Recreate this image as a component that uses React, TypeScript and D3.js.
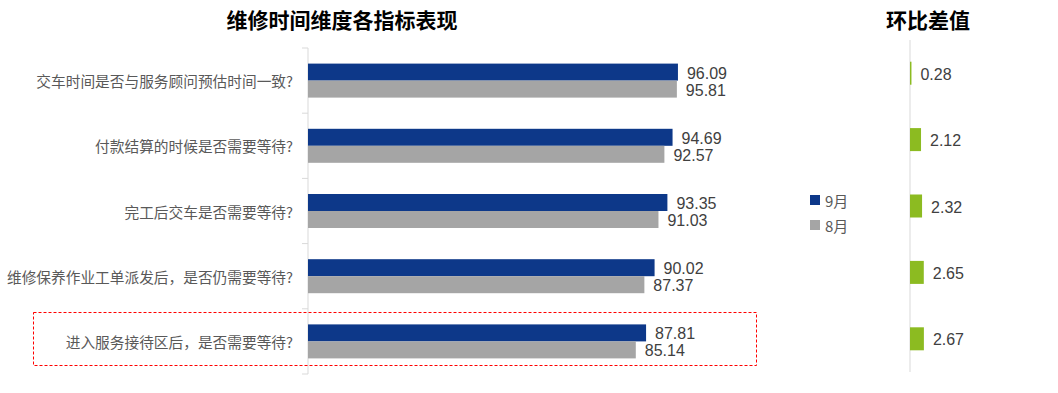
import React from "react";
import * as d3 from "d3";

// chart data
const categories = [
  "交车时间是否与服务顾问预估时间一致?",
  "付款结算的时候是否需要等待?",
  "完工后交车是否需要等待?",
  "维修保养作业工单派发后，是否仍需要等待?",
  "进入服务接待区后，是否需要等待?",
];
const septValues = [96.09, 94.69, 93.35, 90.02, 87.81];
const augValues = [95.81, 92.57, 91.03, 87.37, 85.14];
const diffValues = [0.28, 2.12, 2.32, 2.65, 2.67];
const seriesNames = ["9月", "8月"];

const W = 1058;
const H = 393;
const BLUE = "#0d3889";
const GRAY = "#a5a5a5";
const GREEN = "#8cbb21";
const AXIS = "#d9d9d9";
const TEXT = "#404040";
const LABEL = "#595959";
const CJK = "'Noto Sans CJK SC', 'Noto Sans', sans-serif";
const NUM = "'Liberation Sans', Arial, sans-serif";

export default function App() {
  const x0 = 308;
  const xScale = d3.scaleLinear().domain([0, 100]).range([x0, x0 + 385]);
  const yScale = d3.scaleBand().domain(categories).range([48, 374]);
  const barH = 17;

  const dx0 = 910;
  const dxScale = d3.scaleLinear().domain([0, 1]).range([dx0, dx0 + 5.2]);
  const dyScale = d3.scaleBand().domain(categories).range([40, 372]);
  const diffH = 23;

  const ticks = [...categories.map((c) => yScale(c)!), 374];

  return (
    <svg
      width={W}
      height={H}
      style={{ position: "absolute", left: 0, top: 0, background: "#fff" }}
    >
      {/* titles */}
      <text x={342} y={19} textAnchor="middle" dominantBaseline="central"
        fontFamily={CJK} fontWeight={700} fontSize={21} fill="#000">
        维修时间维度各指标表现
      </text>
      <text x={928} y={19} textAnchor="middle" dominantBaseline="central"
        fontFamily={CJK} fontWeight={700} fontSize={21} fill="#000">
        环比差值
      </text>

      {/* left axis */}
      <line x1={x0} x2={x0} y1={48} y2={374} stroke={AXIS} />
      {ticks.map((t, i) => (
        <line key={i} x1={x0 - 6} x2={x0} y1={t} y2={t} stroke={AXIS} />
      ))}

      {categories.map((c, i) => {
        const cy = yScale(c)! + yScale.bandwidth() / 2;
        return (
          <g key={c}>
            <text x={293} y={cy} textAnchor="end" dominantBaseline="central"
              fontFamily={CJK} fontSize={14.7} fill={LABEL}>
              {c}
            </text>
            <rect x={x0} y={cy - barH} width={xScale(septValues[i]) - x0}
              height={barH} fill={BLUE} />
            <rect x={x0} y={cy} width={xScale(augValues[i]) - x0}
              height={barH} fill={GRAY} />
            <text x={xScale(septValues[i]) + 9} y={cy - barH / 2 + 1}
              dominantBaseline="central" fontFamily={NUM} fontSize={16} fill={TEXT}>
              {septValues[i].toFixed(2)}
            </text>
            <text x={xScale(augValues[i]) + 9} y={cy + barH / 2 + 1}
              dominantBaseline="central" fontFamily={NUM} fontSize={16} fill={TEXT}>
              {augValues[i].toFixed(2)}
            </text>
          </g>
        );
      })}

      {/* legend */}
      {seriesNames.map((s, i) => (
        <g key={s} transform={`translate(810, ${195 + i * 25})`}>
          <rect x={0} y={0} width={10} height={10} fill={i === 0 ? BLUE : GRAY} />
          <text x={15} y={5} dominantBaseline="central" fontFamily={CJK}
            fontSize={15} fill={LABEL}>
            {s}
          </text>
        </g>
      ))}

      {/* diff panel */}
      <line x1={dx0} x2={dx0} y1={40} y2={372} stroke={AXIS} />
      {categories.map((c, i) => {
        const cy = dyScale(c)! + dyScale.bandwidth() / 2;
        const w = Math.max(1, dxScale(diffValues[i]) - dx0);
        return (
          <g key={c}>
            <rect x={dx0} y={cy - diffH / 2} width={w} height={diffH} fill={GREEN} />
            <text x={dx0 + w + 9} y={cy + 1} dominantBaseline="central"
              fontFamily={NUM} fontSize={16} fill={TEXT}>
              {diffValues[i].toFixed(2)}
            </text>
          </g>
        );
      })}

      {/* highlight box */}
      <rect x={33.5} y={312.5} width={723} height={53} fill="none"
        stroke="#ff0000" strokeDasharray="3,2" />
    </svg>
  );
}
